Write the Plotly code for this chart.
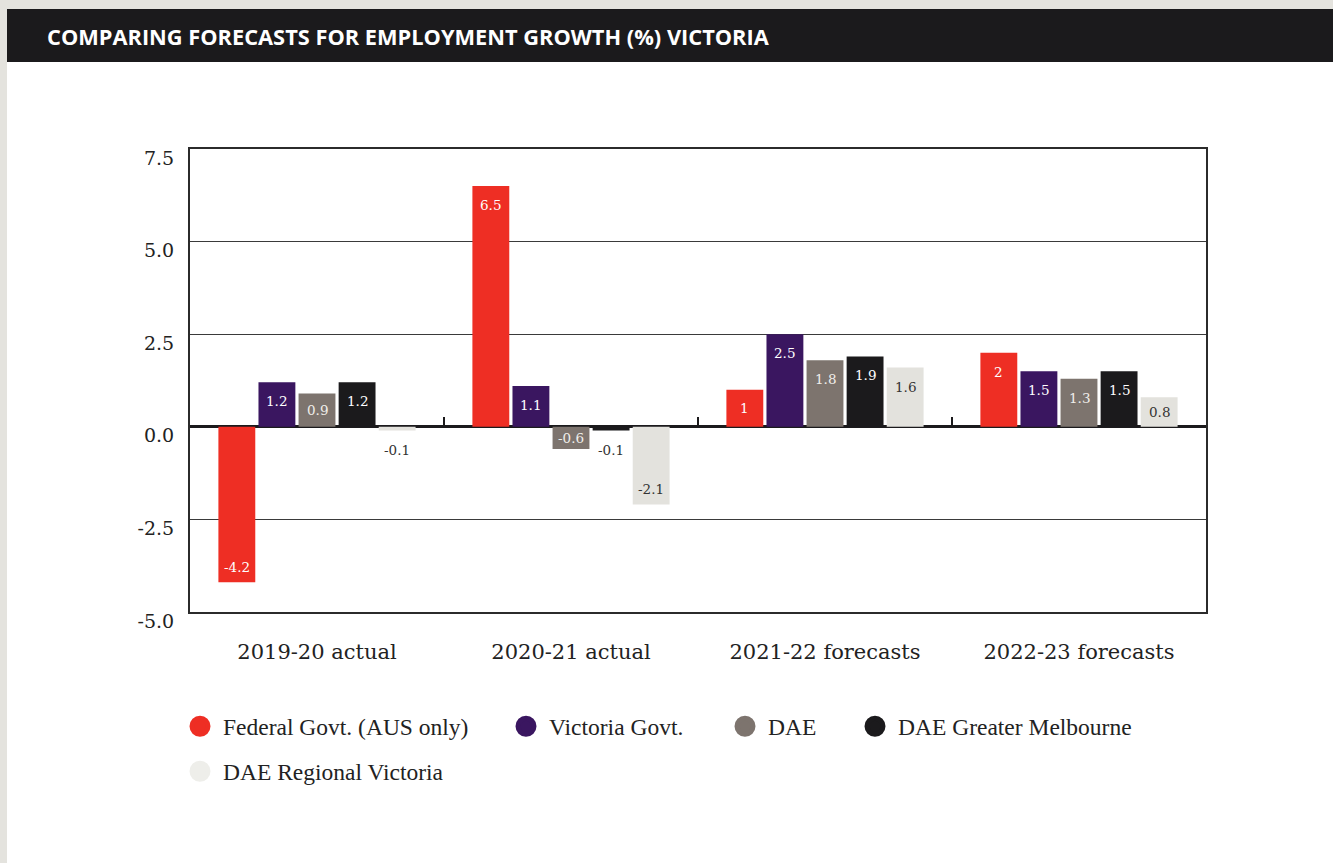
import plotly.graph_objects as go

# ---- data -------------------------------------------------------------
categories = ["2019-20 actual", "2020-21 actual", "2021-22 forecasts", "2022-23 forecasts"]
series_names = [
    "Federal Govt. (AUS only)",
    "Victoria Govt.",
    "DAE",
    "DAE Greater Melbourne",
    "DAE Regional Victoria",
]
federal_govt = [-4.2, 6.5, 1, 2]
victoria_govt = [1.2, 1.1, 2.5, 1.5]
dae = [0.9, -0.6, 1.8, 1.3]
dae_greater_melbourne = [1.2, -0.1, 1.9, 1.5]
dae_regional_victoria = [-0.1, -2.1, 1.6, 0.8]
y_tick_values = [-5.0, -2.5, 0.0, 2.5, 5.0, 7.5]

series_values = [federal_govt, victoria_govt, dae, dae_greater_melbourne, dae_regional_victoria]

# ---- styling ----------------------------------------------------------
bar_colors = ["#ee2e24", "#3a1660", "#7d746e", "#1b1a1c", "#e3e2dd"]
legend_colors = ["#ee2e24", "#3a1660", "#7d746e", "#1b1a1c", "#eeeeea"]
label_colors = ["#ffffff", "#ffffff", "#f0eeea", "#ffffff", "#333333"]
OUTSIDE_LABEL_COLOR = "#333333"

WIDTH, HEIGHT = 1333, 863
PLOT_L, PLOT_R, PLOT_T, PLOT_B = 190, 1206, 149, 612
Y_RANGE = [-5, 7.5]
BARGAP, BARGROUPGAP = 0.211, 0.08

SERIF = "DejaVu Serif"
LEGEND_FONT = "Liberation Serif"
AXIS_COLOR = "#2b2b2b"


def paper_x(px):
    return (px - PLOT_L) / (PLOT_R - PLOT_L)


def paper_y(py):
    return (PLOT_B - py) / (PLOT_B - PLOT_T)


px_per_unit = (PLOT_B - PLOT_T) / (Y_RANGE[1] - Y_RANGE[0])
zero_position = (0 - Y_RANGE[0]) / (Y_RANGE[1] - Y_RANGE[0])

fig = go.Figure()

# grouped bars
for name, vals, color in zip(series_names, series_values, bar_colors):
    fig.add_trace(go.Bar(
        x=categories, y=vals, name=name, marker=dict(color=color, line=dict(width=0)),
        showlegend=False, legendgroup=name, hovertemplate="%{x}<br>" + name + ": %{y}<extra></extra>",
    ))

# legend entries with round swatches, one legend box per series
legend_slots = [(200, 727), (526, 727), (745, 727), (875, 727), (200, 772)]
legend_layouts = {}
for i, (name, color) in enumerate(zip(series_names, legend_colors)):
    key = "legend" if i == 0 else f"legend{i + 1}"
    fig.add_trace(go.Scatter(
        x=[None], y=[None], mode="markers", name=name, legendgroup=name, legend=key,
        marker=dict(size=16, color=color, line=dict(width=5, color=color)),
    ))
    cx, cy = legend_slots[i]
    legend_layouts[key] = dict(
        x=paper_x(cx - 23), y=paper_y(cy - 0.5), xanchor="left", yanchor="middle",
        orientation="h", bgcolor="rgba(0,0,0,0)", borderwidth=0, itemsizing="trace",
        itemwidth=36, font=dict(family=LEGEND_FONT, size=23.5, color="#222222"),
    )

# short separators on the zero line between the year groups
fig.add_trace(go.Scatter(x=[None], y=[None], xaxis="x2", showlegend=False, hoverinfo="skip"))

# value labels placed inside the end of each bar (below it when the bar is too short)
n = len(series_names)
slot = (1 - BARGAP) / n
annotations = []
for i, (vals, lcolor) in enumerate(zip(series_values, label_colors)):
    for g, v in enumerate(vals):
        xpos = g - (1 - BARGAP) / 2 + (i + 0.5) * slot
        h = abs(v) * px_per_unit
        if h < 12:
            shift, color = -19, OUTSIDE_LABEL_COLOR
        elif v > 0:
            shift, color = -min(h / 2, 19), lcolor
        else:
            shift, color = min(h / 2, 15.5), lcolor
        annotations.append(dict(
            x=xpos, y=v, xref="x", yref="y", text=f"{v:g}", showarrow=False,
            yshift=shift, xanchor="center", yanchor="middle",
            font=dict(family=SERIF, size=13.5, color=color),
        ))

# header text
annotations.append(dict(
    x=paper_x(45), y=paper_y(36), xref="paper", yref="paper", xanchor="left", yanchor="middle",
    text="COMPARING FORECASTS FOR EMPLOYMENT GROWTH (%) VICTORIA", showarrow=False,
    font=dict(family="Open Sans", size=21.8, color="#ffffff", weight="bold"),
))

shapes = [
    # white page panel
    dict(type="rect", xref="paper", yref="paper", layer="below", line=dict(width=0),
         x0=paper_x(7), x1=paper_x(WIDTH), y0=paper_y(9), y1=paper_y(HEIGHT), fillcolor="#ffffff"),
    # dark header band
    dict(type="rect", xref="paper", yref="paper", layer="below", line=dict(width=0),
         x0=paper_x(7), x1=paper_x(WIDTH), y0=paper_y(9), y1=paper_y(62), fillcolor="#1b1a1c"),
]

fig.update_layout(
    width=WIDTH, height=HEIGHT,
    margin=dict(l=PLOT_L, r=WIDTH - PLOT_R, t=PLOT_T, b=HEIGHT - PLOT_B, autoexpand=False),
    paper_bgcolor="#e4e3de", plot_bgcolor="#ffffff",
    barmode="group", bargap=BARGAP, bargroupgap=BARGROUPGAP,
    annotations=annotations, shapes=shapes,
    xaxis=dict(
        type="category", categoryorder="array", categoryarray=categories,
        range=[-0.5, len(categories) - 0.5],
        showgrid=False, zeroline=False, showline=True, mirror=True,
        linecolor=AXIS_COLOR, linewidth=2, ticks="",
        tickfont=dict(family=SERIF, size=21, color="#222222"), ticklabelstandoff=20,
    ),
    xaxis2=dict(
        overlaying="x", anchor="free", position=zero_position, side="bottom",
        range=[-0.5, len(categories) - 0.5], tickmode="array", tickvals=[0.5, 1.5, 2.5],
        ticks="inside", ticklen=10, tickwidth=2, tickcolor="#1b1a1c",
        showticklabels=False, showgrid=False, zeroline=False, showline=False,
    ),
    yaxis=dict(
        range=Y_RANGE, tickmode="array", tickvals=y_tick_values,
        ticktext=[f"{t:.1f}" for t in y_tick_values],
        showgrid=True, gridcolor="#3a3a3a", gridwidth=1,
        zeroline=True, zerolinecolor="#1b1a1c", zerolinewidth=2.5,
        showline=True, mirror=True, linecolor=AXIS_COLOR, linewidth=2, ticks="",
        tickfont=dict(family=SERIF, size=19, color="#222222"),
        ticklabelstandoff=10, ticklabelshift=9,
    ),
    **legend_layouts,
)

fig.write_html("out.html")
